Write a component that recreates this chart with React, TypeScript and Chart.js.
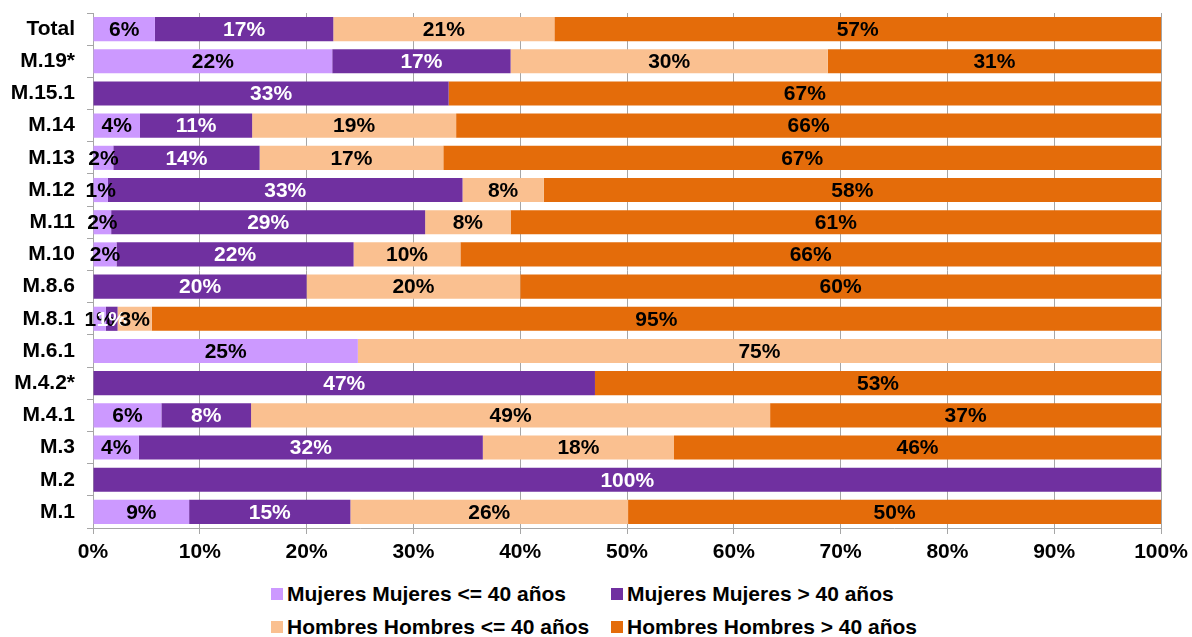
import React, { useEffect, useRef } from "react";
import { Chart, registerables } from "chart.js";

Chart.register(...registerables);

const categories = ["Total", "M.19*", "M.15.1", "M.14", "M.13", "M.12", "M.11", "M.10", "M.8.6", "M.8.1", "M.6.1", "M.4.2*", "M.4.1", "M.3", "M.2", "M.1"];
const mujeresJovenes = [5.8, 22.4, 0, 4.4, 1.9, 1.4, 1.7, 2.2, 0, 1.2, 24.8, 0, 6.4, 4.3, 0, 9.0];
const mujeresMayores = [16.7, 16.7, 33.3, 10.5, 13.7, 33.2, 29.4, 22.2, 20.0, 1.1, 0, 47.0, 8.4, 32.2, 100, 15.1];
const hombresJovenes = [20.7, 29.7, 0, 19.1, 17.2, 7.6, 8.0, 10.0, 20.0, 3.2, 75.2, 0, 48.6, 17.9, 0, 26.0];
const hombresMayores = [56.8, 31.2, 66.7, 66.0, 67.2, 57.8, 60.9, 65.6, 60.0, 94.5, 0, 53.0, 36.6, 45.6, 0, 49.9];

const seriesNames = ["Mujeres Mujeres <= 40 años", "Mujeres Mujeres > 40 años", "Hombres Hombres <= 40 años", "Hombres Hombres > 40 años"];
const seriesColors = ["#CC99FF", "#7030A0", "#FAC090", "#E46C0A"];
const labelColors = ["#000000", "#FFFFFF", "#000000", "#000000"];

const FONT = "'Liberation Sans', Arial, sans-serif";

const segmentLabels = {
  id: "segmentLabels",
  afterDatasetsDraw(chart: any) {
    const ctx = chart.ctx;
    ctx.save();
    ctx.font = `bold 21px ${FONT}`;
    ctx.textAlign = "center";
    ctx.textBaseline = "middle";
    chart.data.datasets.forEach((ds: any, di: number) => {
      const meta = chart.getDatasetMeta(di);
      meta.data.forEach((el: any, i: number) => {
        const v = ds.data[i];
        if (!v) return;
        const p = el.getProps(["x", "y", "base"], true);
        ctx.fillStyle = labelColors[di];
        ctx.fillText(Math.round(v) + "%", (p.x + p.base) / 2, p.y + 1);
      });
    });
    ctx.restore();
  },
};

export default function App() {
  const ref = useRef<HTMLCanvasElement>(null);
  useEffect(() => {
    if (!ref.current) return;
    const data = [mujeresJovenes, mujeresMayores, hombresJovenes, hombresMayores];
    const chart = new Chart(ref.current, {
      type: "bar",
      data: {
        labels: categories,
        datasets: data.map((d, i) => ({
          label: seriesNames[i],
          data: d,
          backgroundColor: seriesColors[i],
          borderWidth: 0,
          categoryPercentage: 0.75,
          barPercentage: 1,
        })),
      },
      options: {
        indexAxis: "y",
        responsive: false,
        animation: false,
        layout: { padding: { left: 0, right: 31, top: 13, bottom: 0 } },
        plugins: { legend: { display: false }, tooltip: { enabled: false } },
        scales: {
          x: {
            stacked: true,
            min: 0,
            max: 100,
            ticks: {
              stepSize: 10,
              callback: (v: any) => v + "%",
              color: "#000",
              font: { family: FONT, size: 21, weight: "bold" },
              padding: 6,
            },
            grid: { color: "#a6a6a6", tickLength: 6, drawTicks: true },
            border: { color: "#a6a6a6" },
            afterFit: (s: any) => { s.height = 575 - 528; s.paddingLeft = 0; s.paddingRight = 0; },
          },
          y: {
            stacked: true,
            ticks: {
              color: "#000",
              font: { family: FONT, size: 21, weight: "bold" },
              padding: 12,
            },
            grid: { drawOnChartArea: false, drawTicks: true, tickLength: 6, color: "#a6a6a6" },
            border: { color: "#a6a6a6" },
            afterFit: (s: any) => { s.width = 93; s.paddingTop = 0; s.paddingBottom = 0; },
          },
        },
      },
      plugins: [segmentLabels],
    });
    return () => chart.destroy();
  }, []);

  const legendPos = [
    { left: 271, top: 577 },
    { left: 611, top: 577 },
    { left: 271, top: 610 },
    { left: 611, top: 610 },
  ];

  return (
    <div style={{ position: "absolute", left: 0, top: 0, width: 1192, height: 637, background: "#fff", fontFamily: FONT }}>
      <canvas ref={ref} width={1192} height={575} style={{ display: "block", width: 1192, height: 575 }} />
      {seriesNames.map((n, i) => (
        <div
          key={n}
          style={{
            position: "absolute",
            left: legendPos[i].left,
            top: legendPos[i].top,
            height: 33,
            display: "flex",
            alignItems: "center",
            fontSize: 21,
            fontWeight: "bold",
            color: "#000",
            whiteSpace: "nowrap",
          }}
        >
          <span style={{ display: "inline-block", width: 12, height: 12, background: seriesColors[i], marginRight: 4 }} />
          {n}
        </div>
      ))}
    </div>
  );
}
